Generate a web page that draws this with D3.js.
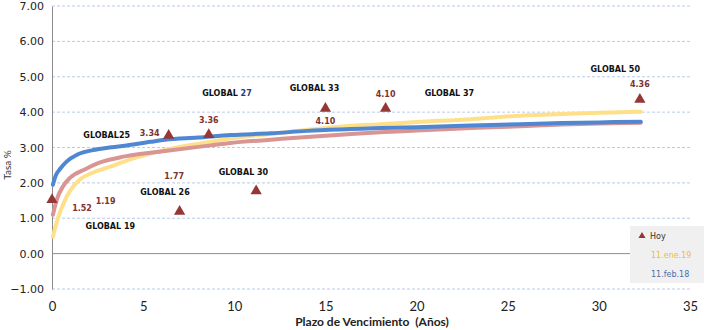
<!DOCTYPE html>
<html>
<head>
<meta charset="utf-8">
<script src="https://cdn.jsdelivr.net/npm/d3@7"></script>
<style>
  body { margin: 0; background: #fff; }
  svg { display: block; }
</style>
</head>
<body>
<div id="chart"></div>
<script>
// curve 11.feb.18 (blue)
const febYears = [0.05, 0.2, 0.45, 0.8, 1.4, 2.5, 4, 5.4, 6.2, 8, 9.8, 12, 14, 16.4, 18, 20, 23, 25.7, 28, 30, 32.3];
const febRates = [1.95, 2.2, 2.4, 2.6, 2.8, 2.95, 3.05, 3.16, 3.22, 3.28, 3.35, 3.4, 3.47, 3.52, 3.55, 3.57, 3.62, 3.66, 3.69, 3.71, 3.73];

// curve 11.ene.19 (yellow)
const eneYears = [0.05, 0.3, 0.7, 1.0, 1.5, 2.2, 3.2, 4.5, 6.2, 8.7, 9.8, 12, 14, 15.8, 18, 20, 23, 25.7, 28, 30, 32.3];
const eneRates = [0.48, 0.96, 1.5, 1.78, 2.08, 2.28, 2.46, 2.7, 2.93, 3.16, 3.26, 3.38, 3.5, 3.59, 3.66, 3.72, 3.8, 3.9, 3.95, 3.98, 4.01];

// third curve (pink)
const pinkYears = [0.05, 0.3, 0.6, 1.0, 1.8, 2.6, 4, 6.2, 8.7, 9.8, 12, 14, 16.4, 18, 20, 23, 25.7, 28, 30, 32.3];
const pinkRates = [1.1, 1.58, 1.9, 2.15, 2.38, 2.57, 2.75, 2.9, 3.06, 3.13, 3.22, 3.3, 3.38, 3.43, 3.48, 3.55, 3.6, 3.65, 3.68, 3.70];

// Hoy points
const hoyYears = [0.0, 7.0, 6.4, 8.6, 11.2, 15.0, 18.3, 32.25];
const hoyRates = [1.52, 1.19, 3.34, 3.36, 1.77, 4.10, 4.10, 4.36];

// bond names and where they sit (years, rate)
const bondNames = ["GLOBAL25", "GLOBAL 27", "GLOBAL 33", "GLOBAL 37", "GLOBAL 50", "GLOBAL 26", "GLOBAL 19", "GLOBAL 30"];
const bondNameX = [3.0, 9.6, 14.4, 21.8, 30.9, 6.2, 3.2, 10.5];
const bondNameY = [3.27, 4.46, 4.60, 4.46, 5.14, 1.67, 0.71, 2.21];

const xTicks = [0, 5, 10, 15, 20, 25, 30, 35];
const yTicks = [-1, 0, 1, 2, 3, 4, 5, 6, 7];

const W = 717, H = 330;
const svg = d3.select("#chart").append("svg")
  .attr("width", W).attr("height", H);

const x = d3.scaleLinear().domain([0, 35]).range([52, 690]);
const y = d3.scaleLinear().domain([-1, 7]).range([289, 6]);

// gridlines
svg.append("g")
  .selectAll("line")
  .data(yTicks.filter(d => d !== 0))
  .join("line")
  .attr("x1", x(0)).attr("x2", 692)
  .attr("y1", d => y(d)).attr("y2", d => y(d))
  .attr("stroke", "#b9cbe8")
  .attr("stroke-width", 1)
  .attr("stroke-dasharray", "3,2");

// zero line
svg.append("line")
  .attr("x1", x(0)).attr("x2", 692)
  .attr("y1", y(0)).attr("y2", y(0))
  .attr("stroke", "#8c8c8c");

// y axis
const yAxis = d3.axisLeft(y).tickValues(yTicks).tickFormat(d3.format(".2f")).tickSize(0).tickPadding(8);
const gy = svg.append("g").attr("transform", `translate(${x(0)},0)`).call(yAxis);
gy.select(".domain").attr("stroke", "#8c8c8c");
gy.selectAll("text")
  .attr("font-family", "DejaVu Sans, Verdana, sans-serif")
  .attr("font-size", 11)
  .attr("fill", "#222");

// x axis
const xAxis = d3.axisBottom(x).tickValues(xTicks).tickSize(0).tickPadding(0);
const gx = svg.append("g").attr("transform", `translate(0,${y(-1) + 13})`).call(xAxis);
gx.select(".domain").remove();
gx.selectAll("text")
  .attr("font-family", "Lato, Carlito, sans-serif")
  .attr("font-size", 13)
  .attr("fill", "#222");

// axis titles
svg.append("text")
  .attr("x", 372).attr("y", 326)
  .attr("text-anchor", "middle")
  .attr("font-family", "Lato, Carlito, sans-serif")
  .attr("font-weight", "bold")
  .attr("font-size", 12)
  .attr("fill", "#222")
  .attr("xml:space", "preserve")
  .text("Plazo de Vencimiento  (Años)");

svg.append("text")
  .attr("transform", `translate(11,${165}) rotate(-90)`)
  .attr("text-anchor", "middle")
  .attr("font-family", "Lato, Carlito, sans-serif")
  .attr("font-size", 10)
  .attr("fill", "#333")
  .text("Tasa %");

// curves
const line = d3.line().x(d => x(d[0])).y(d => y(d[1])).curve(d3.curveMonotoneX);
const curves = [
  {years: eneYears, rates: eneRates, color: "#ffe08a"},
  {years: pinkYears, rates: pinkRates, color: "#d99594"},
  {years: febYears, rates: febRates, color: "#4f87d3"}
];
svg.append("g")
  .selectAll("path")
  .data(curves)
  .join("path")
  .attr("d", c => line(c.years.map((v, i) => [v, c.rates[i]])))
  .attr("fill", "none")
  .attr("stroke", c => c.color)
  .attr("stroke-width", 4)
  .attr("stroke-linecap", "round");

// Hoy triangles
const hoy = hoyYears.map((v, i) => ({x: v, y: hoyRates[i]}));
svg.append("g")
  .selectAll("path")
  .data(hoy)
  .join("path")
  .attr("transform", d => `translate(${x(d.x)},${y(d.y)})`)
  .attr("d", d3.symbol(d3.symbolTriangle, 55))
  .attr("fill", "#953735");

// value labels, offsets in pixels from their triangle
const valueDx = [30, -74, -19, 0, -82, 0, 0, 0];
const valueDy = [8, -11, -2, -15, -15, 12, -15, -15];
svg.append("g")
  .selectAll("text")
  .data(hoy)
  .join("text")
  .attr("x", (d, i) => x(d.x) + valueDx[i])
  .attr("y", (d, i) => y(d.y) + valueDy[i] + 3)
  .attr("text-anchor", "middle")
  .attr("font-family", "DejaVu Sans, Verdana, sans-serif")
  .attr("font-weight", "bold")
  .attr("font-size", 8)
  .attr("fill", "#7f3330")
  .text(d => d.y.toFixed(2));

// bond names
const names = svg.append("g")
  .selectAll("text")
  .data(bondNames)
  .join("text")
  .attr("x", (d, i) => x(bondNameX[i]))
  .attr("y", (d, i) => y(bondNameY[i]))
  .attr("text-anchor", "middle")
  .attr("font-family", "DejaVu Sans, Verdana, sans-serif")
  .attr("font-weight", "bold")
  .attr("font-size", 8)
  .attr("fill", "#111");
names.each(function(d) {
  const t = d3.select(this);
  if (d === "GLOBAL 27") {
    t.append("tspan").text("GLOBAL ");
    t.append("tspan").attr("fill", "#1f3c88").text("27");
  } else {
    t.text(d);
  }
});

// legend
const lg = svg.append("g").attr("transform", "translate(630,226)");
lg.append("rect").attr("width", 74).attr("height", 57).attr("fill", "#f0f0f0");
lg.append("path")
  .attr("transform", "translate(12,10)")
  .attr("d", d3.symbol(d3.symbolTriangle, 22))
  .attr("fill", "#953735");
const legendItems = [
  {label: "Hoy", color: "#333"},
  {label: "11.ene.19", color: "#f5b93a"},
  {label: "11.feb.18", color: "#4a6ea8"}
];
lg.selectAll("text.item")
  .data(legendItems)
  .join("text")
  .attr("class", "item")
  .attr("x", (d, i) => i === 0 ? 20 : 21)
  .attr("y", (d, i) => 13 + i * 19)
  .attr("font-family", "DejaVu Sans, Verdana, sans-serif")
  .attr("font-size", 8)
  .attr("fill", d => d.color)
  .text(d => d.label);
</script>
</body>
</html>
